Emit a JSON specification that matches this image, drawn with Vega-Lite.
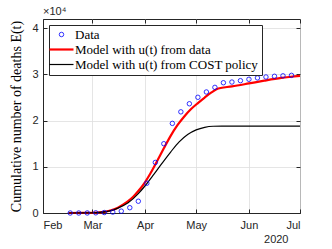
{
  "$schema": "https://vega.github.io/schema/vega-lite/v6.json",
  "width": 257,
  "height": 194,
  "autosize": "none",
  "padding": {"left": 43, "top": 19, "right": 32, "bottom": 36},
  "background": "white",
  "title": {"text": "×10⁴", "anchor": "start", "frame": "group", "font": "Liberation Sans", "fontSize": 11, "fontWeight": "normal", "color": "#262626", "offset": 2},
  "config": {
    "view": {"stroke": "#262626", "strokeWidth": 1},
    "axis": {"domainColor": "#262626", "tickColor": "#262626", "labelColor": "#262626", "gridColor": "#dedede", "gridWidth": 0.8, "labelFont": "Liberation Sans", "labelFontSize": 11, "tickSize": -4, "labelOverlap": false}
  },
  "datasets": {
    "observed": [
      {"date": "2020-02-17", "value": 0, "series": "Data"},
      {"date": "2020-02-22", "value": 0, "series": "Data"},
      {"date": "2020-02-27", "value": 10, "series": "Data"},
      {"date": "2020-03-03", "value": 40, "series": "Data"},
      {"date": "2020-03-08", "value": 100, "series": "Data"},
      {"date": "2020-03-13", "value": 200, "series": "Data"},
      {"date": "2020-03-18", "value": 400, "series": "Data"},
      {"date": "2020-03-23", "value": 1150, "series": "Data"},
      {"date": "2020-03-28", "value": 2550, "series": "Data"},
      {"date": "2020-04-02", "value": 6450, "series": "Data"},
      {"date": "2020-04-07", "value": 10950, "series": "Data"},
      {"date": "2020-04-12", "value": 15000, "series": "Data"},
      {"date": "2020-04-17", "value": 19400, "series": "Data"},
      {"date": "2020-04-22", "value": 21900, "series": "Data"},
      {"date": "2020-04-27", "value": 23650, "series": "Data"},
      {"date": "2020-05-02", "value": 25050, "series": "Data"},
      {"date": "2020-05-07", "value": 26200, "series": "Data"},
      {"date": "2020-05-12", "value": 27200, "series": "Data"},
      {"date": "2020-05-17", "value": 28200, "series": "Data"},
      {"date": "2020-05-22", "value": 28350, "series": "Data"},
      {"date": "2020-05-27", "value": 28650, "series": "Data"},
      {"date": "2020-06-01", "value": 28950, "series": "Data"},
      {"date": "2020-06-06", "value": 29250, "series": "Data"},
      {"date": "2020-06-11", "value": 29450, "series": "Data"},
      {"date": "2020-06-16", "value": 29600, "series": "Data"},
      {"date": "2020-06-21", "value": 29700, "series": "Data"},
      {"date": "2020-06-26", "value": 29800, "series": "Data"}
    ],
    "models": [
      {"date": "2020-02-16", "value": 0, "series": "Model with u(t) from data"},
      {"date": "2020-02-24", "value": 10, "series": "Model with u(t) from data"},
      {"date": "2020-03-01", "value": 50, "series": "Model with u(t) from data"},
      {"date": "2020-03-05", "value": 130, "series": "Model with u(t) from data"},
      {"date": "2020-03-09", "value": 300, "series": "Model with u(t) from data"},
      {"date": "2020-03-12", "value": 580, "series": "Model with u(t) from data"},
      {"date": "2020-03-16", "value": 1150, "series": "Model with u(t) from data"},
      {"date": "2020-03-19", "value": 1800, "series": "Model with u(t) from data"},
      {"date": "2020-03-22", "value": 2550, "series": "Model with u(t) from data"},
      {"date": "2020-03-25", "value": 3500, "series": "Model with u(t) from data"},
      {"date": "2020-03-28", "value": 4750, "series": "Model with u(t) from data"},
      {"date": "2020-04-01", "value": 6700, "series": "Model with u(t) from data"},
      {"date": "2020-04-04", "value": 8500, "series": "Model with u(t) from data"},
      {"date": "2020-04-08", "value": 11200, "series": "Model with u(t) from data"},
      {"date": "2020-04-12", "value": 14000, "series": "Model with u(t) from data"},
      {"date": "2020-04-16", "value": 16700, "series": "Model with u(t) from data"},
      {"date": "2020-04-20", "value": 19000, "series": "Model with u(t) from data"},
      {"date": "2020-04-24", "value": 20900, "series": "Model with u(t) from data"},
      {"date": "2020-04-28", "value": 22500, "series": "Model with u(t) from data"},
      {"date": "2020-05-02", "value": 23800, "series": "Model with u(t) from data"},
      {"date": "2020-05-06", "value": 25000, "series": "Model with u(t) from data"},
      {"date": "2020-05-10", "value": 26100, "series": "Model with u(t) from data"},
      {"date": "2020-05-14", "value": 26950, "series": "Model with u(t) from data"},
      {"date": "2020-05-22", "value": 27400, "series": "Model with u(t) from data"},
      {"date": "2020-06-01", "value": 28050, "series": "Model with u(t) from data"},
      {"date": "2020-06-10", "value": 28650, "series": "Model with u(t) from data"},
      {"date": "2020-06-20", "value": 29250, "series": "Model with u(t) from data"},
      {"date": "2020-07-01", "value": 29700, "series": "Model with u(t) from data"},
      {"date": "2020-02-16", "value": 0, "series": "Model with u(t) from COST policy"},
      {"date": "2020-02-24", "value": 10, "series": "Model with u(t) from COST policy"},
      {"date": "2020-03-01", "value": 50, "series": "Model with u(t) from COST policy"},
      {"date": "2020-03-05", "value": 120, "series": "Model with u(t) from COST policy"},
      {"date": "2020-03-09", "value": 280, "series": "Model with u(t) from COST policy"},
      {"date": "2020-03-12", "value": 520, "series": "Model with u(t) from COST policy"},
      {"date": "2020-03-16", "value": 1050, "series": "Model with u(t) from COST policy"},
      {"date": "2020-03-22", "value": 2200, "series": "Model with u(t) from COST policy"},
      {"date": "2020-03-28", "value": 4200, "series": "Model with u(t) from COST policy"},
      {"date": "2020-04-01", "value": 5900, "series": "Model with u(t) from COST policy"},
      {"date": "2020-04-06", "value": 8300, "series": "Model with u(t) from COST policy"},
      {"date": "2020-04-11", "value": 10800, "series": "Model with u(t) from COST policy"},
      {"date": "2020-04-16", "value": 13200, "series": "Model with u(t) from COST policy"},
      {"date": "2020-04-21", "value": 15400, "series": "Model with u(t) from COST policy"},
      {"date": "2020-04-26", "value": 17000, "series": "Model with u(t) from COST policy"},
      {"date": "2020-05-01", "value": 18000, "series": "Model with u(t) from COST policy"},
      {"date": "2020-05-06", "value": 18550, "series": "Model with u(t) from COST policy"},
      {"date": "2020-05-11", "value": 18780, "series": "Model with u(t) from COST policy"},
      {"date": "2020-05-16", "value": 18820, "series": "Model with u(t) from COST policy"},
      {"date": "2020-07-01", "value": 18800, "series": "Model with u(t) from COST policy"}
    ]
  },
  "encoding": {
    "color": {"field": "series", "type": "nominal",
      "scale": {"domain": ["Data", "Model with u(t) from data", "Model with u(t) from COST policy"], "range": ["#0000ff", "#ff0000", "#000000"]},
      "legend": {"title": null, "orient": "top-left", "offset": 6, "padding": 3, "fillColor": "white", "strokeColor": "#262626", "labelFont": "Liberation Serif", "labelFontSize": 13, "labelColor": "black", "labelLimit": 0, "rowPadding": 1, "symbolSize": 150, "symbolOffset": 3, "labelOffset": 7,
        "encode": {"symbols": {"update": {
          "shape": {"signal": "datum.label === 'Data' ? 'circle' : 'stroke'"},
          "size": {"signal": "datum.label === 'Data' ? 20 : 576"},
          "strokeWidth": {"signal": "datum.label === 'Data' ? 0.8 : (datum.label === 'Model with u(t) from data' ? 2.2 : 1.2)"},
          "fill": {"value": "transparent"}}}}}}
  },
  "resolve": {"axis": {"x": "independent", "y": "independent"}},
  "layer": [
    {"data": {"name": "models"},
     "mark": {"type": "line", "interpolate": "monotone"},
     "encoding": {
       "x": {"field": "date", "type": "temporal",
         "scale": {"type": "utc", "domain": [{"year": 2020, "month": 2, "date": 1, "utc": true}, {"year": 2020, "month": 7, "date": 1, "utc": true}]},
         "axis": {"format": "%b", "labelPadding": 10, "grid": true, "title": "2020", "titleFont": "Liberation Sans", "titleFontSize": 11, "titleFontWeight": "normal", "titleColor": "#262626", "titleX": 245, "titleAlign": "right", "titlePadding": 3,
           "values": [{"year": 2020, "month": 2, "date": 1, "utc": true}, {"year": 2020, "month": 3, "date": 1, "utc": true}, {"year": 2020, "month": 4, "date": 1, "utc": true}, {"year": 2020, "month": 5, "date": 1, "utc": true}, {"year": 2020, "month": 6, "date": 1, "utc": true}, {"year": 2020, "month": 7, "date": 1, "utc": true}]}},
       "y": {"field": "value", "type": "quantitative",
         "scale": {"domain": [0, 42000], "nice": false},
         "axis": {"values": [0, 10000, 20000, 30000, 40000], "labelExpr": "datum.value / 10000", "labelPadding": 9, "grid": true, "title": "Cumulative number of deaths E(t)", "titleFont": "Liberation Serif", "titleFontSize": 14, "titleFontWeight": "normal", "titleColor": "black", "titlePadding": 8}},
       "strokeWidth": {"field": "series", "type": "nominal", "scale": {"domain": ["Model with u(t) from data", "Model with u(t) from COST policy"], "range": [2.2, 1.2]}, "legend": null}}},
    {"data": {"name": "observed"},
     "mark": {"type": "point", "shape": "circle", "filled": false, "size": 20, "strokeWidth": 0.8, "opacity": 1},
     "encoding": {
       "x": {"field": "date", "type": "temporal",
         "axis": {"orient": "top", "labels": false, "domain": false, "grid": false, "title": null,
           "values": [{"year": 2020, "month": 2, "date": 1, "utc": true}, {"year": 2020, "month": 3, "date": 1, "utc": true}, {"year": 2020, "month": 4, "date": 1, "utc": true}, {"year": 2020, "month": 5, "date": 1, "utc": true}, {"year": 2020, "month": 6, "date": 1, "utc": true}, {"year": 2020, "month": 7, "date": 1, "utc": true}]}},
       "y": {"field": "value", "type": "quantitative",
         "axis": {"orient": "right", "labels": false, "domain": false, "grid": false, "title": null, "values": [0, 10000, 20000, 30000, 40000]}}}}
  ]
}
